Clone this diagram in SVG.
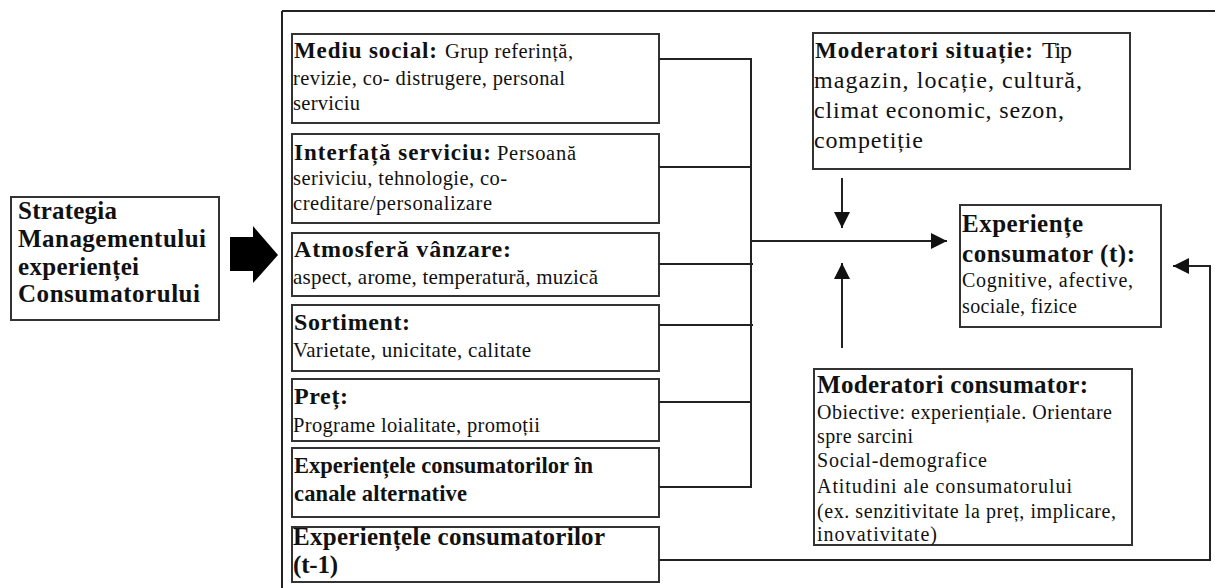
<svg xmlns="http://www.w3.org/2000/svg" width="1215" height="588" viewBox="0 0 1215 588">
<style>
.box{fill:#fff;stroke:#333;stroke-width:2}
.t{font-family:"Liberation Serif","Times New Roman",serif;fill:#111}
.b{font-weight:bold}
.ln{stroke:#222;stroke-width:2;fill:none}
</style>
<defs>
<marker id="ah" markerUnits="userSpaceOnUse" markerWidth="16" markerHeight="16" refX="16" refY="8" orient="auto">
<path d="M0,0 L16,8 L0,16 Z" fill="#111"/>
</marker>
</defs>
<rect width="1215" height="588" fill="#fff"/>
<g id="frame">
<line class="ln" x1="282" y1="11" x2="1215" y2="11"/>
<line class="ln" x1="282" y1="11" x2="282" y2="588"/>
</g>
<g id="strategy">
<rect class="box" x="11" y="197" width="208" height="123"/>
<text class="t b" font-size="25" x="18" y="219" textLength="99">Strategia</text>
<text class="t b" font-size="25" x="18" y="247" textLength="188">Managementului</text>
<text class="t b" font-size="25" x="18" y="275" textLength="121">experienței</text>
<text class="t b" font-size="25" x="18" y="302" textLength="182">Consumatorului</text>
</g>
<g id="bigArrow">
<polygon points="230,237 253,237 253,226 278,255 253,283 253,271 230,271" fill="#000"/>
</g>
<g id="mediu">
<rect class="box" x="292" y="34" width="367" height="89"/>
<text class="t b" font-size="23" x="294" y="58" textLength="143">Mediu social:</text>
<text class="t" font-size="20.5" x="445" y="58" textLength="128">Grup referință,</text>
<text class="t" font-size="20.5" x="293" y="85" textLength="272">revizie, co- distrugere, personal</text>
<text class="t" font-size="20.5" x="293" y="110" textLength="67">serviciu</text>
</g>
<g id="interfata">
<rect class="box" x="292" y="134" width="367" height="89"/>
<text class="t b" font-size="23" x="294" y="160" textLength="197">Interfață serviciu:</text>
<text class="t" font-size="20.5" x="497" y="160" textLength="79">Persoană</text>
<text class="t" font-size="20.5" x="293" y="185" textLength="214">seriviciu, tehnologie, co-</text>
<text class="t" font-size="20.5" x="293" y="210" textLength="199">creditare/personalizare</text>
</g>
<g id="atmosfera">
<rect class="box" x="292" y="233" width="367" height="63"/>
<text class="t b" font-size="24" x="294" y="257" textLength="217">Atmosferă vânzare:</text>
<text class="t" font-size="21" x="293" y="284" textLength="305">aspect, arome, temperatură, muzică</text>
</g>
<g id="sortiment">
<rect class="box" x="292" y="305" width="367" height="66"/>
<text class="t b" font-size="24" x="294" y="330" textLength="116">Sortiment:</text>
<text class="t" font-size="21" x="293" y="357" textLength="238">Varietate, unicitate, calitate</text>
</g>
<g id="pret">
<rect class="box" x="292" y="379" width="367" height="62"/>
<text class="t b" font-size="24" x="294" y="404" textLength="54">Preț:</text>
<text class="t" font-size="20.5" x="293" y="432" textLength="247">Programe loialitate, promoții</text>
</g>
<g id="canale">
<rect class="box" x="292" y="448" width="367" height="69"/>
<text class="t b" font-size="22.5" x="294" y="473" textLength="299">Experiențele consumatorilor în</text>
<text class="t b" font-size="22.5" x="294" y="501" textLength="173">canale alternative</text>
</g>
<g id="anterior">
<rect class="box" x="292" y="527" width="367" height="55"/>
<text class="t b" font-size="25" x="293" y="545" textLength="312">Experiențele consumatorilor</text>
<text class="t b" font-size="25" x="293" y="573" textLength="45">(t-1)</text>
</g>
<g id="modSituatie">
<rect class="box" x="813" y="33" width="317" height="136"/>
<text class="t b" font-size="23" x="815" y="58" textLength="218">Moderatori situație:</text>
<text class="t" font-size="24" x="1042" y="58" textLength="30">Tip</text>
<text class="t" font-size="24" x="814" y="88" textLength="268">magazin, locație, cultură,</text>
<text class="t" font-size="24" x="814" y="118" textLength="250">climat economic, sezon,</text>
<text class="t" font-size="24" x="814" y="148" textLength="109">competiție</text>
</g>
<g id="experiente">
<rect class="box" x="960" y="205" width="201" height="122"/>
<text class="t b" font-size="25" x="962" y="232" textLength="121">Experiențe</text>
<text class="t b" font-size="25" x="962" y="262" textLength="173">consumator (t):</text>
<text class="t" font-size="20" x="962" y="287" textLength="171">Cognitive, afective,</text>
<text class="t" font-size="20" x="962" y="313" textLength="115">sociale, fizice</text>
</g>
<g id="modConsumator">
<rect class="box" x="814" y="369" width="318" height="176"/>
<text class="t b" font-size="25" x="817" y="393" textLength="271">Moderatori consumator:</text>
<text class="t" font-size="20" x="817" y="419" textLength="295">Obiective: experiențiale. Orientare</text>
<text class="t" font-size="20" x="817" y="443" textLength="96">spre sarcini</text>
<text class="t" font-size="20" x="817" y="467" textLength="170">Social-demografice</text>
<text class="t" font-size="20" x="817" y="493" textLength="255">Atitudini  ale consumatorului</text>
<text class="t" font-size="20" x="817" y="518" textLength="299">(ex. senzitivitate la preț, implicare,</text>
<text class="t" font-size="20" x="817" y="541" textLength="120">inovativitate)</text>
</g>
<g id="connectors">
<line class="ln" x1="659" y1="59" x2="751" y2="59"/>
<line class="ln" x1="659" y1="167" x2="751" y2="167"/>
<line class="ln" x1="659" y1="264" x2="753" y2="264"/>
<line class="ln" x1="659" y1="325" x2="753" y2="325"/>
<line class="ln" x1="659" y1="402" x2="751" y2="402"/>
<line class="ln" x1="659" y1="487" x2="751" y2="487"/>
<line class="ln" x1="751" y1="58" x2="751" y2="488"/>
<line class="ln" x1="751" y1="241" x2="947" y2="241" marker-end="url(#ah)"/>
<line class="ln" x1="842" y1="178" x2="842" y2="228" marker-end="url(#ah)"/>
<line class="ln" x1="842" y1="348" x2="842" y2="263" marker-end="url(#ah)"/>
<polyline class="ln" points="659,560 1210,560 1210,266 1173,266" marker-end="url(#ah)"/>
</g>
</svg>
